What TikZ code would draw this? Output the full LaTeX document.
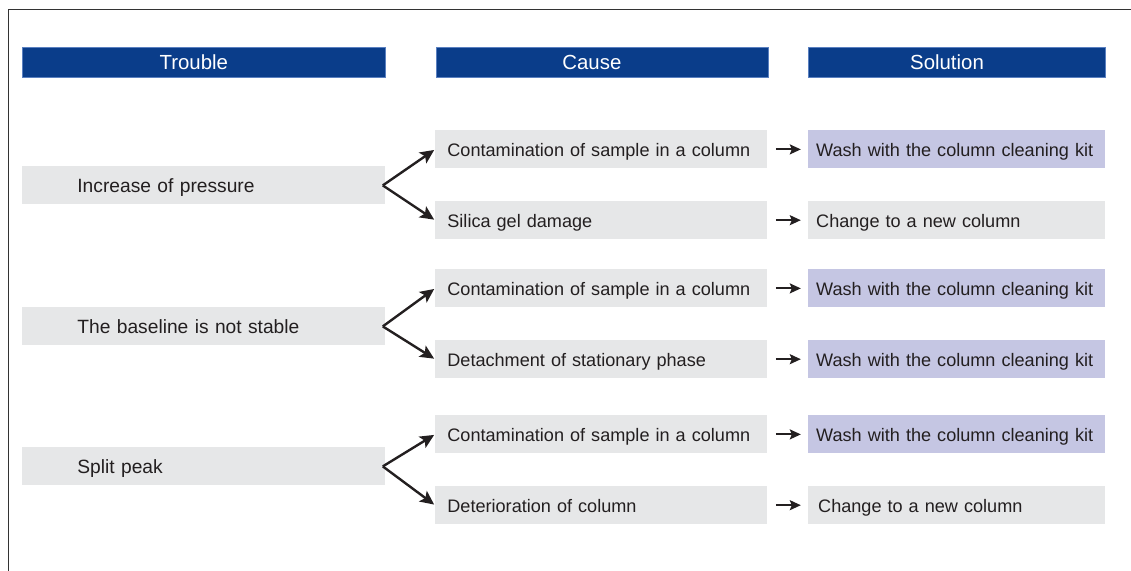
\documentclass[tikz,border=0pt]{standalone}
\usepackage{fontspec}
\setmainfont{Liberation Sans}
\usetikzlibrary{arrows.meta,positioning}
\definecolor{hdrblue}{HTML}{0A3D8A}
\definecolor{hdredge}{HTML}{5A80C0}
\definecolor{boxgrey}{HTML}{E6E7E8}
\definecolor{washblue}{HTML}{C5C6E3}
\definecolor{inkdark}{HTML}{231F20}

\begin{document}
\begin{tikzpicture}[
  x=1pt, y=1pt,
  font=\fontsize{9.05}{11}\selectfont,
  hdr/.style={fill=hdrblue, draw=hdredge, line width=0.3pt, text=white, inner sep=0pt,
    minimum height=15pt, font=\fontsize{10.2}{12}\selectfont},
  cell/.style={fill=boxgrey, text=inkdark, align=left, minimum height=19pt,
    inner ysep=0pt, text height=1.6ex, text depth=.3ex},
  trbl/.style={cell, inner xsep=27.5pt, text width=126.5pt, font=\fontsize{9.6}{11}\selectfont},
  cause/.style={cell, inner xsep=6pt, text width=154pt},
  soln/.style={cell, inner xsep=4pt, text width=140.5pt},
  wash/.style={soln, fill=washblue},
  fork/.style={-{Stealth[length=7pt, width=6.5pt, inset=1.5pt]}, line width=1.2pt, inkdark, shorten >=0.5pt},
  arr/.style={-{Stealth[length=5.5pt, width=5pt, inset=1pt]}, line width=0.9pt, inkdark,
    shorten <=4pt, shorten >=3.5pt},
  node distance=16pt and 20pt]
\useasboundingbox (0,0) rectangle (565.5,-285.5);
% --- frame ---
\draw[line width=0.5pt, black!80] (565.5,-5) -- (4,-5) -- (4,-285.5);
% --- column headers ---
\node[hdr, minimum width=181.5pt, anchor=north west] (hTrouble) at (11,-23.5) {Trouble\hspace*{10pt}};
\node[hdr, minimum width=166pt, right=25pt of hTrouble] (hCause) {Cause\hspace*{10pt}};
\node[hdr, minimum width=148.5pt, right=20pt of hCause] (hSolution) {Solution\hspace*{10pt}};
% --- troubles ---
\node[trbl, anchor=north west] (t1) at (11,-83) {Increase of pressure};
\node[trbl, anchor=north west] (t2) at (11,-153.5) {The baseline is not stable};
\node[trbl, anchor=north west] (t3) at (11,-223.5) {Split peak};
% --- causes ---
\node[cause, anchor=north west] (c1) at (217.5,-65) {Contamination of sample in a column};
\node[cause, below=of c1] (c2) {Silica gel damage};
\node[cause, anchor=north west] (c3) at (217.5,-134.5) {Contamination of sample in a column};
\node[cause, below=of c3] (c4) {Detachment of stationary phase};
\node[cause, anchor=north west] (c5) at (217.5,-207.5) {Contamination of sample in a column};
\node[cause, below=of c5] (c6) {Deterioration of column};
% --- solutions ---
\node[wash, right=of c1] (s1) {Wash with the column cleaning kit};
\node[soln, right=of c2] (s2) {Change to a new column};
\node[wash, right=of c3] (s3) {Wash with the column cleaning kit};
\node[wash, right=of c4] (s4) {Wash with the column cleaning kit};
\node[wash, right=of c5] (s5) {Wash with the column cleaning kit};
\node[soln, right=of c6] (s6) {\hspace*{1pt}Change to a new column};
% --- trouble -> cause ---
\draw[fork] ([xshift=-1.5pt]t1.east) -- (c1.west);
\draw[fork] ([xshift=-1.5pt]t1.east) -- (c2.west);
\draw[fork] ([xshift=-1.5pt]t2.east) -- (c3.west);
\draw[fork] ([xshift=-1.5pt]t2.east) -- (c4.west);
\draw[fork] ([xshift=-1.5pt]t3.east) -- (c5.west);
\draw[fork] ([xshift=-1.5pt]t3.east) -- (c6.west);
% --- cause -> solution ---
\draw[arr] (c1) -- (s1);
\draw[arr] (c2) -- (s2);
\draw[arr] (c3) -- (s3);
\draw[arr] (c4) -- (s4);
\draw[arr] (c5) -- (s5);
\draw[arr] (c6) -- (s6);
\end{tikzpicture}
\end{document}
